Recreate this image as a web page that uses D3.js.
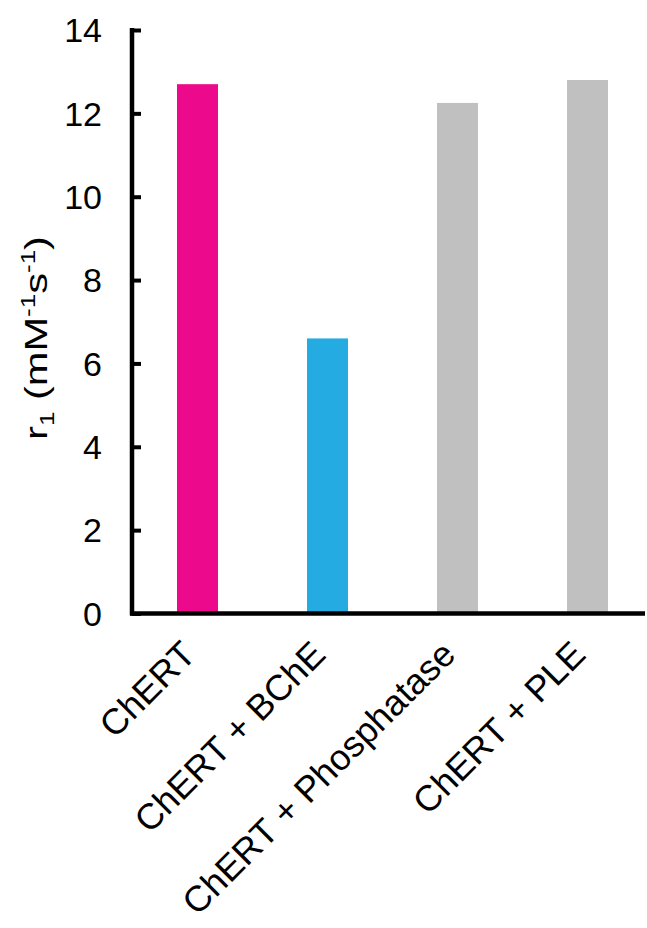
<!DOCTYPE html>
<html>
<head>
<meta charset="utf-8">
<script src="https://cdn.jsdelivr.net/npm/d3@7"></script>
<style>
  html, body { margin: 0; padding: 0; background: #fff; }
  svg { display: block; }
  text { font-family: "Liberation Sans", Arial, Helvetica, sans-serif; fill: #000; }
</style>
</head>
<body>
<svg id="chart" width="647" height="928"></svg>
<script>
// Relaxivity r1 for ChERT alone and after enzyme treatment
const categories = ["ChERT", "ChERT + BChE", "ChERT + Phosphatase", "ChERT + PLE"];
const r1Values = [12.7, 6.6, 12.25, 12.8];
const barColors = ["#EC098C", "#24ACE2", "#C0C0C0", "#C0C0C0"];
const yTicks = [0, 2, 4, 6, 8, 10, 12, 14];

const svg = d3.select("#chart");
const axisX = 132, axisY = 613.5, topY = 30, rightX = 645;

const x = d3.scaleBand()
  .domain(categories)
  .range([132.5, 652.5])
  .paddingInner(1 - 41 / 130)
  .paddingOuter((1 - 41 / 130) / 2);

const y = d3.scaleLinear().domain([0, 14]).range([axisY, topY]);

// bars
svg.append("g").selectAll("rect")
  .data(categories)
  .join("rect")
  .attr("x", d => x(d))
  .attr("width", x.bandwidth())
  .attr("y", (d, i) => y(r1Values[i]))
  .attr("height", (d, i) => axisY - y(r1Values[i]))
  .attr("fill", (d, i) => barColors[i]);

// y axis with inward ticks
const yAxis = d3.axisRight(y)
  .tickValues(yTicks)
  .tickSize(9)
  .tickFormat("");
const gy = svg.append("g").attr("transform", `translate(${axisX},0)`).call(yAxis);
gy.select(".domain").remove();
gy.selectAll(".tick line").attr("stroke", "#000").attr("stroke-width", 4);
svg.append("line")
  .attr("x1", axisX).attr("x2", axisX)
  .attr("y1", topY - 2).attr("y2", axisY + 2)
  .attr("stroke", "#000").attr("stroke-width", 4.5);

// y tick labels
svg.append("g").selectAll("text")
  .data(yTicks)
  .join("text")
  .attr("x", 102)
  .attr("y", d => y(d))
  .attr("dy", "0.36em")
  .attr("text-anchor", "end")
  .attr("font-size", 34)
  .text(d => d);

// x axis baseline
svg.append("line")
  .attr("x1", axisX - 2).attr("x2", rightX)
  .attr("y1", axisY).attr("y2", axisY)
  .attr("stroke", "#000").attr("stroke-width", 4.5);

// category labels, rotated
svg.append("g").selectAll("text")
  .data(categories)
  .join("text")
  .attr("transform", d => `translate(${x(d) + x.bandwidth() / 2},${axisY + 43}) rotate(-45)`)
  .attr("text-anchor", "end")
  .attr("font-size", 36)
  .text(d => d);

// y axis title, stretched along its reading direction
const title = svg.append("text")
  .attr("transform", "translate(47,338) rotate(-90) scale(1.3,1)")
  .attr("text-anchor", "middle")
  .attr("font-size", 32);
title.append("tspan").text("r");
title.append("tspan").attr("font-size", 20).attr("dy", 7).text("1");
title.append("tspan").attr("dy", -7).text("  (mM");
title.append("tspan").attr("font-size", 20).attr("dy", -12).text("-1");
title.append("tspan").attr("dy", 12).text("s");
title.append("tspan").attr("font-size", 20).attr("dy", -12).text("-1");
title.append("tspan").attr("dy", 12).text(")");
</script>
</body>
</html>
